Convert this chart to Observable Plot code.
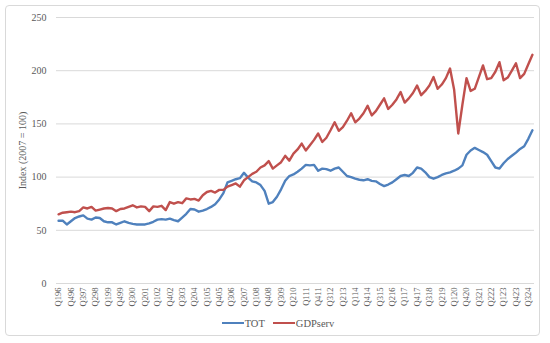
<!DOCTYPE html>
<html>
<head>
<meta charset="utf-8">
<script src="https://cdn.jsdelivr.net/npm/d3@7"></script>
<script src="https://cdn.jsdelivr.net/npm/@observablehq/plot@0.6"></script>
<style>
  body { margin: 0; background: #fff; }
  #wrap { position: relative; width: 550px; height: 343px; overflow: hidden; font-family: "Liberation Serif", "DejaVu Serif", serif; }
  #frame { position: absolute; left: 5px; top: 5px; width: 535px; height: 331px; border: 1px solid #d9d9d9; border-radius: 4px; box-sizing: border-box; }
  #chart { position: absolute; left: 0; top: 0; }
  #legend { position: absolute; left: 0; top: 313px; width: 550px; height: 20px; display: flex; justify-content: center; align-items: center; gap: 8px; font-size: 10.5px; color: #595959; padding-left: 6px; box-sizing: border-box; }
  .item { display: flex; align-items: center; gap: 1px; }
  .sw { display: inline-block; width: 22px; height: 2.5px; }
</style>
</head>
<body>
<div id="wrap">
  <div id="frame"></div>
  <div id="chart"></div>
  <div id="legend"></div>
</div>
<script>
// Categories: quarters Q1 1996 .. Q4 2024
const years = ["96","97","98","99","00","01","02","03","04","05","06","07","08","09","10","11","12","13","14","15","16","17","18","19","20","21","22","23","24"];
const quarterNames = ["Q1","Q2","Q3","Q4"];
const categories = [];
for (const y of years) for (const q of quarterNames) categories.push(q + y);

// Series values, one row per year Q1..Q4
const TOT = [
  59, 59, 55.5, 58.5,       // 1996
  61.5, 63, 64, 61,         // 1997
  60, 62, 61.5, 58.5,       // 1998
  57.5, 57.5, 55.5, 57,     // 1999
  58.5, 57, 56, 55.5,       // 2000
  55.5, 55.5, 56.5, 58,     // 2001
  60, 60.5, 60, 61,         // 2002
  59.5, 58.5, 62, 65.5,     // 2003
  70, 69.5, 67.5, 68.5,     // 2004
  70, 72, 74.5, 79,         // 2005
  85, 95, 96.5, 98,         // 2006
  99, 104, 99.5, 96,        // 2007
  95, 92.5, 87, 75,         // 2008
  76.5, 81.5, 88.5, 96.5,   // 2009
  101, 102.5, 105, 108,     // 2010
  111.5, 111, 111.5, 106,   // 2011
  108, 107.5, 106, 108,     // 2012
  109, 105, 101, 100,       // 2013
  98.5, 97.5, 97, 98,       // 2014
  96.5, 96, 93.5, 91.5,     // 2015
  93, 95, 98, 101,          // 2016
  102, 101, 104, 109,       // 2017
  108, 104.5, 100, 98.5,    // 2018
  100, 102, 103.5, 104.5,   // 2019
  106, 108, 111, 121,       // 2020
  125, 127.5, 125.5, 123.5, // 2021
  121, 115, 109, 108,       // 2022
  113, 117, 120, 123,       // 2023
  126.5, 129, 136, 144      // 2024
];
const GDPserv = [
  65, 66.5, 67, 67.5,       // 1996
  67, 68, 71.5, 70.5,       // 1997
  72, 68.5, 69.5, 70.5,     // 1998
  71, 70.5, 68, 70,         // 1999
  70.5, 72, 73.5, 71.5,     // 2000
  72.5, 72, 68, 72.5,       // 2001
  72, 73, 69, 76.5,         // 2002
  75, 76.5, 75.5, 80,       // 2003
  79, 79.5, 78, 83,         // 2004
  86, 87, 85.5, 88,         // 2005
  88, 91, 92.5, 94,         // 2006
  91, 97, 100, 103,         // 2007
  105, 109, 111, 115,       // 2008
  108, 111, 114, 120,       // 2009
  115.5, 122, 126, 131.5,   // 2010
  125, 130, 135, 141,       // 2011
  133, 137, 144, 151.5,     // 2012
  143.5, 147, 153, 160,     // 2013
  151.5, 155, 160, 167,     // 2014
  158, 162, 168, 174,       // 2015
  164, 168, 173, 180,       // 2016
  170, 174, 179, 186,       // 2017
  177, 181, 186, 194,       // 2018
  183, 187, 193, 202,       // 2019
  182, 141, 168, 193,       // 2020
  181, 183, 194, 205,       // 2021
  192, 193, 199, 208,       // 2022
  191, 193.5, 200, 207,     // 2023
  193, 197, 206, 215        // 2024
];

const yTicks = [0, 50, 100, 150, 200, 250];
const xTickEvery = 3;

const colors = { TOT: "#4F81BD", GDPserv: "#C0504D" };

const rows = [];
categories.forEach((c, i) => {
  rows.push({ i, cat: c, series: "TOT", v: TOT[i] });
  rows.push({ i, cat: c, series: "GDPserv", v: GDPserv[i] });
});

const xTicks = categories.map((c, i) => i).filter(i => i % xTickEvery === 0);

const chart = Plot.plot({
  width: 550,
  height: 310,
  marginLeft: 56,
  marginRight: 16,
  marginTop: 17,
  marginBottom: 27,
  style: { fontFamily: '"Liberation Serif", "DejaVu Serif", serif', color: "#595959", background: "transparent" },
  x: { domain: [-0.5, categories.length - 0.5] },
  y: { domain: [0, 250] },
  marks: [
    Plot.gridY(yTicks, { stroke: "#d9d9d9", strokeOpacity: 1, strokeWidth: 1 }),
    Plot.ruleY([0], { stroke: "#d9d9d9", strokeWidth: 1 }),
    Plot.axisY(yTicks, { tickSize: 0, tickPadding: 10, fontSize: 10, label: "Index (2007 = 100)", labelAnchor: "center", labelArrow: "none", labelOffset: 38 }),
    Plot.axisX(xTicks, { tickSize: 0, tickPadding: 4, tickRotate: -90, fontSize: 8.5, tickFormat: i => categories[i], label: null }),
    Plot.line(rows, { x: "i", y: "v", z: "series", stroke: d => colors[d.series], strokeWidth: 2.4, strokeLinejoin: "round", strokeLinecap: "round" })
  ]
});
document.getElementById("chart").appendChild(chart);

const legend = document.getElementById("legend");
for (const name of ["TOT", "GDPserv"]) {
  const item = document.createElement("span");
  item.className = "item";
  const sw = document.createElement("span");
  sw.className = "sw";
  sw.style.background = colors[name];
  const t = document.createElement("span");
  t.textContent = name;
  item.appendChild(sw);
  item.appendChild(t);
  legend.appendChild(item);
}
</script>
</body>
</html>
